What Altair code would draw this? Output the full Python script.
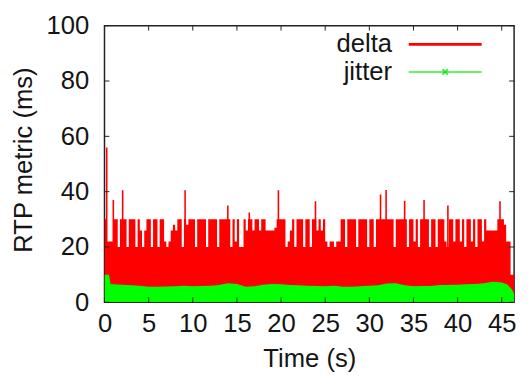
import altair as alt
import pandas as pd

# ---- data ----
# delta envelope, one value per 0.25 s starting at t = 0
delta_env = [
    30, 22, 22, 22,   30, 30, 20, 30,   30, 30, 20, 30,   30, 30, 20, 30,
    26, 20, 26, 30,   30, 20, 30, 30,   20, 30, 30, 22,   20, 22, 26, 28,
    26, 30, 30, 20,   30, 28, 30, 30,   30, 20, 30, 30,   30, 30, 20, 30,
    30, 30, 30, 20,   30, 30, 30, 30,   30, 20, 30, 22,   30, 20, 20, 30,
    26, 30, 30, 26,   30, 30, 26, 30,   30, 26, 26, 26,   26, 27, 30, 30,
    30, 30, 20, 22,   26, 30, 20, 30,   30, 30, 20, 30,   30, 20, 30, 30,
    26, 30, 26, 30,   22, 20, 22, 22,   20, 22, 22, 30,   30, 20, 30, 30,
    30, 30, 20, 30,   30, 30, 30, 20,   30, 30, 20, 30,   30, 30, 30, 30,
    30, 30, 30, 20,   30, 30, 30, 30,   30, 20, 30, 30,   22, 30, 20, 30,
    30, 30, 30, 20,   30, 30, 20, 30,   30, 30, 22, 20,   30, 30, 22, 30,
    30, 22, 30, 20,   30, 30, 22, 30,   20, 30, 30, 22,   30, 26, 26, 26,
    26, 26, 30, 30,   30, 28, 22, 22,   10, 10, 10,
]
env_step = 0.25

# thin spikes of delta (time s, value ms)
spike_t = [0.25, 1.0, 2.06, 9.13, 13.97, 16.4, 19.7, 23.9, 31.27, 31.9, 34.0, 36.2, 38.9, 44.8]
spike_v = [56, 37, 40.5, 40.5, 35, 32.5, 40.5, 36.5, 39, 40.6, 36.7, 37, 35, 36.5]

# jitter (time s, value ms)
jitter_t = [0, 0.5, 0.7, 1, 2, 3, 4, 5, 6, 7, 8, 9, 10, 11, 12, 13, 14, 15, 16, 17,
            18, 19, 20, 21, 22, 23, 24, 25, 26, 27, 28, 29, 30, 31, 32, 33, 34, 35,
            36, 37, 38, 39, 40, 41, 42, 43, 44, 45, 45.6, 46.2, 46.4]
jitter_v = [10, 10, 6.5, 6.5, 6.4, 6.2, 6.0, 5.6, 5.6, 5.7, 5.8, 6.0, 5.8, 5.9, 6.0, 6.3,
            6.9, 6.6, 5.6, 5.8, 6.4, 6.6, 6.5, 6.3, 6.2, 6.0, 5.9, 5.8, 6.0, 5.6, 5.6,
            5.8, 6.0, 6.2, 6.8, 6.9, 6.2, 5.8, 5.9, 5.9, 6.3, 6.3, 6.4, 6.5, 6.6, 6.9,
            7.4, 7.2, 6.5, 4.5, 3.0]

x_ticks = [0, 5, 10, 15, 20, 25, 30, 35, 40, 45]
y_ticks = [0, 20, 40, 60, 80, 100]
series = ["delta", "jitter"]

# ---- chart ----
W, H = 416, 281
FONT = "Liberation Sans"
FS = 26
TXT = "#141414"
RED = "#ff0000"
GREEN = "#00ff00"

env_df = pd.DataFrame({"t": [i * env_step for i in range(len(delta_env))], "v": delta_env})
spk_df = pd.DataFrame({"t": spike_t, "v": spike_v})
jit_df = pd.DataFrame({"t": jitter_t, "v": jitter_v})
xt_df = pd.DataFrame({"t": x_ticks})
yt_df = pd.DataFrame({"v": y_ticks})

xs = alt.Scale(domain=[0, 46.4], nice=False, zero=False)
ys = alt.Scale(domain=[0, 100], nice=False)

x_axis = alt.Axis(values=x_ticks, title="Time (s)", ticks=False, domain=False, grid=False,
                  labelFont=FONT, labelFontSize=FS, labelColor=TXT, labelPadding=9,
                  labelFlush=False, labelOverlap=False,
                  titleFont=FONT, titleFontSize=FS, titleColor=TXT, titleFontWeight="normal",
                  titleBaseline="alphabetic", titleY=65)
y_axis = alt.Axis(values=y_ticks, title="RTP metric (ms)", ticks=False, domain=False, grid=False,
                  labelFont=FONT, labelFontSize=FS, labelColor=TXT, labelPadding=16,
                  labelFlush=False, labelOverlap=False,
                  titleFont=FONT, titleFontSize=FS, titleColor=TXT, titleFontWeight="normal",
                  titleBaseline="alphabetic", titleAngle=270, titleAlign="center",
                  titleX=-74, titleY=136)

X = lambda f: alt.X(f, scale=xs, axis=x_axis)
Y = lambda f: alt.Y(f, scale=ys, axis=y_axis)

delta_area = alt.Chart(env_df).mark_area(interpolate="step-after", color=RED, clip=True).encode(
    x=X("t:Q"), y=Y("v:Q"),
)
delta_spikes = alt.Chart(spk_df).mark_rule(color=RED, strokeWidth=1.6, clip=True).encode(
    x=X("t:Q"), y=Y("v:Q"), y2=alt.datum(0),
)
jitter_area = alt.Chart(jit_df).mark_area(interpolate="linear", color=GREEN, clip=True).encode(
    x=X("t:Q"), y=Y("v:Q"),
)

TL = 5
tick_col = "#222222"
xt_top = alt.Chart(xt_df).mark_rule(color=tick_col, strokeWidth=1).encode(
    x=X("t:Q"), y=alt.value(0), y2=alt.value(TL))
xt_bot = alt.Chart(xt_df).mark_rule(color=tick_col, strokeWidth=1).encode(
    x=X("t:Q"), y=alt.value(H), y2=alt.value(H - TL))
yt_left = alt.Chart(yt_df).mark_rule(color=tick_col, strokeWidth=1).encode(
    y=Y("v:Q"), x=alt.value(0), x2=alt.value(TL))
yt_right = alt.Chart(yt_df).mark_rule(color=tick_col, strokeWidth=1).encode(
    y=Y("v:Q"), x=alt.value(W), x2=alt.value(W - TL))

# legend (top right, label left of the sample line)
leg_delta_df = pd.DataFrame({"name": [series[0]]})
leg_jit_df = pd.DataFrame({"name": [series[1]]})
LX_TEXT, LX0, LX1 = 292, 309, 383
LY1, LY2 = 19, 47
leg_delta_txt = alt.Chart(leg_delta_df).mark_text(
    align="right", baseline="middle", font=FONT, fontSize=FS, color=TXT).encode(
    text="name:N", x=alt.value(LX_TEXT), y=alt.value(LY1))
leg_delta_line = alt.Chart(leg_delta_df).mark_rule(color=RED, strokeWidth=3).encode(
    x=alt.value(LX0), x2=alt.value(LX1), y=alt.value(LY1))
leg_jit_txt = alt.Chart(leg_jit_df).mark_text(
    align="right", baseline="middle", font=FONT, fontSize=FS, color=TXT).encode(
    text="name:N", x=alt.value(LX_TEXT), y=alt.value(LY2))
leg_jit_line = alt.Chart(leg_jit_df).mark_rule(color="#33ee33", strokeWidth=1.5).encode(
    x=alt.value(LX0), x2=alt.value(LX1), y=alt.value(LY2))
leg_jit_pt = alt.Chart(leg_jit_df).mark_point(
    shape="M-1,-1L1,1M1,-1L-1,1", size=30, color="#00dd00", strokeWidth=2, filled=False).encode(
    x=alt.value((LX0 + LX1) / 2), y=alt.value(LY2))

chart = alt.layer(
    delta_area, delta_spikes, jitter_area,
    xt_top, xt_bot, yt_left, yt_right,
    leg_delta_txt, leg_delta_line, leg_jit_txt, leg_jit_line, leg_jit_pt,
).properties(
    width=W, height=H,
    autosize=alt.AutoSizeParams(type="none"),
    padding={"left": 98, "top": 15, "right": 7, "bottom": 80},
    background="white",
).configure_view(
    stroke="#222222", strokeWidth=1.5
)

chart.save("out.html", embed_options={"renderer": "svg", "actions": False})
